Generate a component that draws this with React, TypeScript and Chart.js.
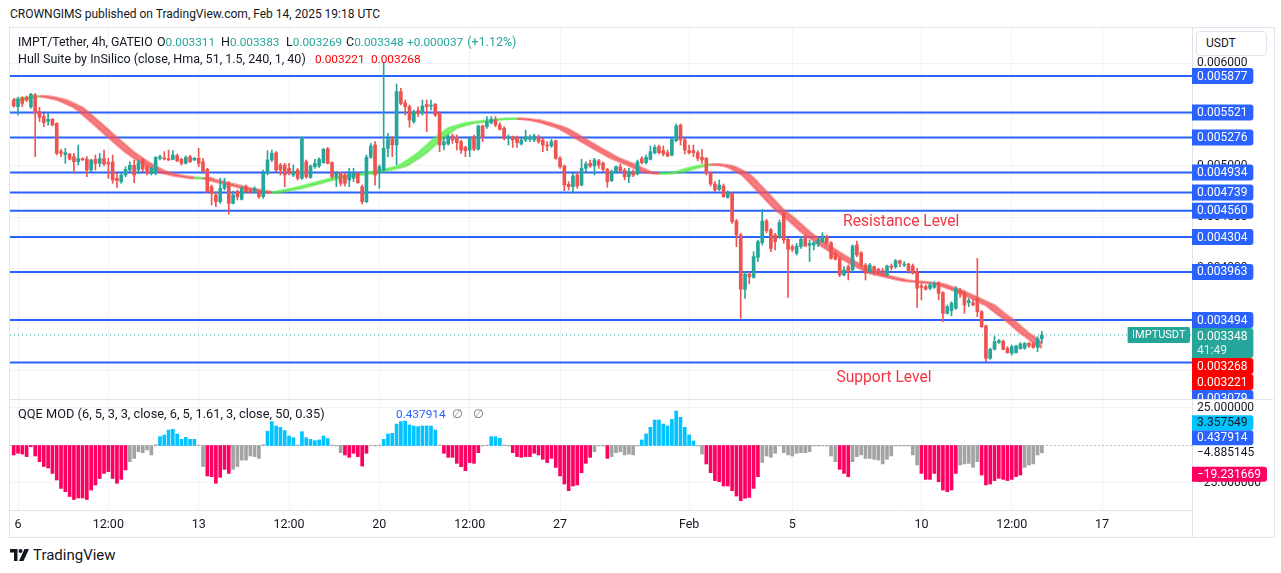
import React, { useEffect, useRef } from 'react';
import { Chart, registerables } from 'chart.js';

Chart.register(...registerables);

const FONT = 'Roboto, "Noto Sans", "DejaVu Sans", sans-serif';
Chart.defaults.font.family = FONT;

// ---- DATA (4h candles, index 0 = Jan 5 2025 20:00 UTC; prices in millionths of USDT) ----
const openU = [
  5642,5577,5665,5668,5577,5691,5528,5480,5434,5454,
  5415,5138,5109,5115,5089,5040,5070,5066,4959,5063,
  5024,5070,5031,5037,4878,4845,4910,4959,5005,4959,
  5057,4991,4926,4933,5073,5076,5070,5063,5099,5063,
  5024,5089,5057,5073,5040,4965,4796,4715,4650,4780,
  4829,4633,4747,4672,4796,4764,4747,4754,4698,4926,
  5057,5128,5008,5008,4975,4910,4959,4878,5040,4887,
  4991,4998,5031,5167,5031,4887,4933,4910,4861,4878,
  4926,4796,4650,5083,5203,4926,4959,5170,5261,5203,
  5724,5616,5577,5431,5538,5519,5600,5584,5600,5512,
  5203,5213,5291,5278,5236,5180,5154,5284,5161,5389,
  5382,5421,5447,5398,5366,5268,5284,5278,5213,5252,
  5258,5252,5284,5252,5203,5193,5245,5073,4998,4819,
  4796,4910,4812,4975,5024,4998,5047,5024,4965,4855,
  4943,4991,4959,4894,4943,4920,5070,5031,5063,5128,
  5187,5148,5128,5105,5245,5398,5252,5148,5148,5128,
  5083,5073,4933,4822,4770,4803,4692,4731,4461,4324,
  3794,3943,3911,4106,4249,4461,4373,4324,4308,4536,
  4282,4210,4145,4210,4308,4223,4227,4236,4259,4308,
  4249,4145,4096,3934,4015,3983,4227,4152,4031,3966,
  4015,3989,3976,3934,4021,4015,4073,4031,4041,4021,
  3966,3826,3820,3804,3813,3859,3761,3559,3585,3608,
  3787,3761,3663,3663,3706,3575,3436,3120,3208,3273,
  3289,3218,3169,3175,3214,3218,3266,3260,3227,3311,
];
const highU = [
  5659,5668,5675,5681,5708,5708,5571,5512,5512,5463,
  5421,5161,5170,5122,5122,5203,5079,5089,5063,5105,
  5122,5154,5073,5105,4926,4926,4991,5040,5057,5057,
  5073,5008,4991,5089,5105,5138,5154,5148,5115,5073,
  5096,5102,5083,5170,5073,4975,4812,4747,4878,4878,
  4845,4754,4764,4796,4812,4780,4796,4764,4959,5148,
  5154,5138,5024,5024,5024,5008,4975,5284,5057,5008,
  5063,5079,5170,5180,5040,4943,4939,4926,4975,4975,
  4933,4812,5105,5219,5236,5008,6010,5317,5284,5799,
  5756,5642,5594,5545,5577,5642,5642,5642,5610,5528,
  5284,5301,5310,5301,5252,5193,5284,5301,5398,5398,
  5480,5480,5480,5421,5382,5301,5291,5291,5268,5349,
  5301,5310,5301,5268,5236,5258,5252,5089,5008,4845,
  4926,4943,5063,5040,5057,5073,5063,5040,4975,4959,
  4998,5018,4975,4975,4959,5057,5089,5105,5193,5203,
  5203,5193,5154,5268,5408,5408,5268,5203,5203,5148,
  5161,5083,4943,4845,4861,4822,4757,4737,4477,4340,
  3966,3966,4161,4275,4575,4477,4389,4340,4471,4552,
  4292,4227,4243,4308,4324,4275,4259,4292,4347,4324,
  4259,4161,4113,4015,4031,4227,4266,4161,4047,4047,
  4021,3999,3999,4031,4041,4087,4080,4064,4047,4041,
  3999,3852,3836,3859,3869,3869,3771,3641,3673,3820,
  3803,3781,3706,3690,4096,3585,3445,3218,3338,3305,
  3299,3234,3250,3250,3273,3273,3273,3273,3331,3383,
];
const lowU = [
  5571,5496,5577,5626,5561,5089,5431,5382,5398,5389,
  5105,5089,5024,5057,4926,5008,5050,4894,4943,4959,
  4991,4998,4878,4829,4790,4829,4894,4943,4835,4926,
  4943,4910,4910,4910,5057,5057,5050,5057,5040,5008,
  5018,5031,5050,4991,4943,4737,4617,4601,4633,4764,
  4529,4627,4666,4666,4737,4731,4737,4682,4682,4910,
  5040,4943,4910,4796,4910,4894,4861,4868,4878,4878,
  4975,4985,5024,5018,4878,4796,4803,4803,4796,4845,
  4829,4627,4640,5073,4812,4780,4943,5089,5089,5008,
  5594,5496,5376,5415,5480,5496,5333,5545,5480,5138,
  5154,5203,5219,5154,5122,5089,5089,5148,5154,5236,
  5366,5408,5382,5349,5252,5203,5180,5180,5203,5236,
  5236,5236,5219,5138,5148,5180,5063,4975,4757,4764,
  4731,4780,4803,4943,4985,4910,4975,4943,4790,4845,
  4926,4943,4861,4835,4894,4910,5018,5018,5057,5115,
  5115,5096,5089,5096,5236,5203,5115,5115,5089,5050,
  5024,4910,4803,4747,4757,4692,4682,4438,4210,3510,
  3706,3846,3901,4064,4227,4347,4161,4178,4292,4243,
  3715,4161,4129,4194,4210,4064,4178,4210,4249,4236,
  4087,4080,3917,3924,3885,3966,4113,4015,3885,3950,
  3934,3934,3924,3924,3983,3999,4015,4015,3950,3943,
  3618,3690,3787,3787,3803,3690,3478,3553,3533,3598,
  3715,3559,3625,3631,3527,3422,3087,3110,3201,3266,
  3201,3169,3152,3169,3208,3208,3227,3218,3185,3269,
];
const closeU = [
  5584,5649,5610,5642,5698,5519,5473,5421,5454,5398,
  5122,5122,5128,5066,5040,5070,5060,4959,5057,5024,
  5070,5018,5018,4861,4855,4910,4965,5005,4910,5031,
  4969,4926,4975,5083,5089,5066,5057,5105,5047,5024,
  5083,5040,5073,5024,4949,4747,4731,4650,4780,4822,
  4633,4715,4698,4780,4747,4741,4780,4698,4926,5057,
  5122,4959,4959,4910,4926,4943,4878,5278,4894,4998,
  5024,5063,5161,5024,4894,4926,4829,4829,4926,4926,
  4835,4650,5083,5193,4910,4991,5170,5268,5203,5724,
  5610,5577,5447,5528,5512,5584,5577,5594,5496,5203,
  5236,5291,5252,5226,5154,5148,5268,5161,5389,5278,
  5431,5454,5398,5356,5268,5284,5252,5226,5252,5284,
  5278,5291,5236,5203,5193,5236,5073,4991,4812,4796,
  4900,4803,4975,5018,4998,5057,5008,4965,4845,4943,
  4991,4952,4894,4943,4910,5040,5031,5083,5138,5180,
  5128,5115,5096,5258,5389,5252,5154,5128,5128,5073,
  5057,4926,4822,4764,4812,4698,4737,4454,4324,3794,
  3943,3917,4113,4259,4461,4366,4194,4259,4445,4275,
  4184,4184,4217,4282,4217,4243,4249,4275,4314,4243,
  4096,4087,3934,3983,3966,4217,4129,4031,3950,4031,
  3976,3950,3934,4021,4008,4073,4047,4041,3966,3950,
  3804,3813,3794,3836,3852,3755,3559,3625,3657,3803,
  3755,3641,3683,3641,3575,3429,3120,3208,3283,3292,
  3208,3175,3234,3240,3260,3266,3240,3227,3311,3348,
];
// Hull Suite (HMA) line, millionths of USDT
const hullU = [
  5645,5653,5660,5668,5675,5682,5680,5672,5665,5655,
  5645,5629,5609,5589,5569,5537,5500,5464,5427,5390,
  5353,5315,5278,5241,5204,5168,5132,5103,5074,5045,
  5019,4996,4974,4952,4936,4925,4915,4905,4898,4893,
  4888,4879,4878,4881,4880,4862,4854,4844,4833,4823,
  4813,4803,4792,4782,4774,4768,4760,4752,4744,4735,
  4740,4748,4757,4765,4773,4781,4792,4803,4813,4825,
  4836,4848,4858,4869,4881,4887,4894,4899,4906,4912,
  4919,4925,4932,4939,4946,4954,4963,4973,4983,4994,
  5015,5042,5069,5097,5129,5166,5203,5240,5274,5306,
  5338,5369,5382,5394,5406,5418,5423,5428,5433,5438,
  5443,5448,5454,5458,5459,5460,5461,5460,5456,5451,
  5447,5438,5427,5416,5402,5390,5376,5358,5334,5310,
  5284,5260,5235,5211,5186,5162,5139,5115,5091,5071,
  5054,5036,5020,5001,4981,4962,4941,4935,4930,4924,
  4921,4926,4931,4936,4941,4955,4969,4980,4990,4998,
  5006,5014,5015,5010,5005,5000,4986,4964,4941,4918,
  4882,4837,4793,4748,4704,4659,4615,4570,4538,4505,
  4469,4433,4394,4356,4324,4296,4267,4237,4209,4182,
  4155,4129,4105,4079,4055,4030,4010,3989,3968,3950,
  3940,3931,3920,3910,3900,3891,3881,3874,3871,3869,
  3866,3861,3856,3852,3847,3835,3820,3805,3790,3771,
  3754,3735,3718,3697,3677,3657,3637,3604,3571,3539,
  3508,3475,3439,3402,3365,3338,3305,3268,3245,3221,
];
// QQE MOD histogram
const qqeHist = [
  -6.3,-5.2,-5.7,-7.4,-0.8,-7,-10.8,-14,-15,-18.6,
  -23,-28.6,-30.8,-34,-36,-35,-35,-36,-29.7,-26.3,
  -22,-18.6,-17.4,-22,-25.2,-22.6,-16.3,-10.8,-8.6,-4.1,
  -4.8,-3,-6.3,0.5,5.9,7,10.3,10.8,7.7,4.1,
  5.4,4.1,4.1,0.3,-14,-20.3,-20.8,-25.2,-21.2,-15.9,
  -18.6,-15.9,-14,-9.7,-9.7,-7,-7.4,-8.6,0.5,9.5,
  15.9,13,12.1,9.9,6.3,5.2,0.4,9.2,5.2,4.1,
  3.2,3.7,6.3,4.6,0.3,-0.3,-4.8,-6.3,-7.9,-5.2,
  -7.4,-13.7,-5.2,0.2,-0.3,0.3,4.1,7.7,8.1,14.3,
  15.9,16.3,13.7,13,12.6,13,13,13,10.3,0.3,
  -5.2,-7.9,-7.9,-11.9,-14.1,-16.8,-11.4,-11.9,-4.8,-0.3,
  0.3,5.9,5.9,4.8,0.3,-0.3,-4.8,-7.4,-7.9,-7.4,
  -7.4,-5.2,-6.3,-9.2,-11.4,-8.6,-14.6,-20.3,-25.7,-30.1,
  -27,-26.3,-18.1,-11.9,-7.9,-4.1,-0.3,-0.3,-8.6,-7.4,
  -4.8,-4.1,-6.3,-5.7,-6.3,-0.3,3.7,7.7,12.1,17,
  17,14.3,13,17.4,23,18.8,12.1,7,3,-0.3,
  -5.7,-12.3,-18.1,-23.4,-24.1,-27,-27,-30.1,-33.7,-36.8,
  -35.2,-34.6,-28.6,-20.8,-11.4,-7,-7.9,-5.2,-0.3,-4.8,
  -6.3,-7,-5.2,-4.8,-4.8,-4.1,-0.3,-0.3,-0.3,-0.3,
  -7,-10.8,-15.9,-18.6,-20.8,-10.8,-7.4,-6.3,-8.6,-8.6,
  -9.2,-9.7,-12.3,-9.2,-7,-0.3,-0.3,-0.3,-0.3,-6.3,
  -13,-18.6,-22.6,-22.6,-18.6,-24.1,-29.7,-30.8,-29.7,-18.6,
  -13,-12.3,-11.9,-14.6,-10.8,-19.7,-26.3,-25.7,-23.4,-21.9,
  -22.6,-23.4,-22.6,-20.8,-19.7,-14.6,-13,-12.3,-6.3,-4.9,
];
// histogram state runs: u = above upper band (blue), d = below (pink), n = neutral (gray)
const qqeStateRuns: [string, number][] = [
  ['d',27],['n',7],['u',9],['n',2],['d',6],['n',8],['u',7],['n',1],['u',7],['n',3],
  ['d',6],['n',3],['u',13],['n',1],['d',9],['n',2],['u',3],['n',2],['d',19],['n',3],
  ['d',1],['n',7],['u',13],['n',2],['d',13],['n',18],['d',3],['n',16],['d',9],['n',5],
  ['d',10],['n',5],
];
const priceLevels = [0.005877, 0.005521, 0.005276, 0.004934, 0.004739, 0.004560, 0.004304, 0.003963, 0.003494, 0.003079];
const priceTicks = [0.003, 0.0035, 0.004, 0.0045, 0.005, 0.0055, 0.006];
const qqeTicks = [-25, 25];
const qqeAxisValues = [3.357549, 0.437914, -4.885145, -19.231669];
const timeTickIdx = [1, 22, 43, 64, 85, 106, 127, 157, 181, 211, 232, 253];
const timeTickLabels = ['6', '12:00', '13', '12:00', '20', '12:00', '27', 'Feb', '5', '10', '12:00', '17'];
const annotations = [
  { text: 'Resistance Level', x: 206.3, y: 0.004455 },
  { text: 'Support Level', x: 202.3, y: 0.002925 },
];
const countdown = '41:49';

// ---- layout / style ----
const X_MIN = -0.86, X_MAX = 273.9;
const P_MIN = 0.0027226, P_MAX = 0.0063458;
const Q_MIN = -43, Q_MAX = 30.33;
const AXIS_W = 81;
const TEXT = '#131722';
const GRID = '#f0f3fa';
const BORDER = '#e0e3eb';
const TEAL = '#26a69a';
const RED = '#ef5350';
const LINE_BLUE = '#2962ff';
const HULL_GREEN = 'rgba(80,238,70,0.75)';
const HULL_RED = 'rgba(245,82,88,0.76)';
const HULL_GREEN_EDGE = 'rgba(80,238,70,0.55)';
const HULL_RED_EDGE = 'rgba(245,82,88,0.55)';
const Q_UP = '#00c3ff';
const Q_DN = '#ff0062';
const Q_NEU = '#a3a3a3';
const NUM_FS = '11.8px';

const P = (u: number) => u / 1e6;
const fmtNum = (v: number, d: number) => (v < 0 ? '\u2212' : '') + Math.abs(v).toFixed(d);

function roundRect(ctx: CanvasRenderingContext2D, x: number, y: number, w: number, h: number, r: number) {
  ctx.beginPath();
  ctx.moveTo(x, y);
  ctx.lineTo(x + w - r, y);
  ctx.quadraticCurveTo(x + w, y, x + w, y + r);
  ctx.lineTo(x + w, y + h - r);
  ctx.quadraticCurveTo(x + w, y + h, x + w - r, y + h);
  ctx.lineTo(x, y + h);
  ctx.closePath();
}

export default function App() {
  const refA = useRef<HTMLCanvasElement>(null);
  const refB = useRef<HTMLCanvasElement>(null);
  const n = openU.length;
  const last = n - 1;
  const lastClose = P(closeU[last]);
  const change = closeU[last] - closeU[last - 1];
  const changePct = (change / closeU[last - 1]) * 100;
  const hullLast = P(hullU[last]);
  const hullPrev = P(hullU[last - 2]);

  useEffect(() => {
    const idx = openU.map((_, i) => i);
    const candleColor = idx.map(i => (closeU[i] >= openU[i] ? TEAL : RED));
    const states: string[] = [];
    qqeStateRuns.forEach(([s, c]) => { for (let k = 0; k < c; k++) states.push(s); });
    const qColor = idx.map(i => (states[i] === 'u' ? Q_UP : states[i] === 'd' ? Q_DN : Q_NEU));
    const rising = (i: number) => hullU[i] >= hullU[Math.max(0, i - 2)];
    const hullEdge = (i: number) => (rising(i) ? HULL_GREEN_EDGE : HULL_RED_EDGE);

    const fixY = (scale: any) => { scale.width = AXIS_W; scale.paddingTop = 0; scale.paddingBottom = 0; };
    const fixXh = (h: number) => (scale: any) => { scale.height = h; scale.paddingLeft = 0; scale.paddingRight = 0; };

    const labelsA = {
      id: 'labelsA',
      afterDatasetsDraw(chart: any) {
        const { ctx, scales } = chart;
        ctx.save();
        ctx.font = `15.6px ${FONT}`;
        ctx.fillStyle = '#f23645';
        ctx.textAlign = 'center';
        ctx.textBaseline = 'middle';
        annotations.forEach(a => ctx.fillText(a.text, scales.x.getPixelForValue(a.x), scales.y.getPixelForValue(a.y)));
        ctx.restore();
      },
      afterDraw(chart: any) {
        const { ctx, chartArea } = chart;
        const y = chart.scales.y;
        const items: any[] = [
          ...priceLevels.map(v => ({ v, lines: [v.toFixed(6)], bg: LINE_BLUE, fg: '#ffffff' })),
          { v: lastClose, lines: [lastClose.toFixed(6), countdown], bg: TEAL, fg: '#ffffff' },
          { v: hullPrev, lines: [hullPrev.toFixed(6)], bg: '#ff0000', fg: '#ffffff' },
          { v: hullLast, lines: [hullLast.toFixed(6)], bg: '#ff0000', fg: '#ffffff' },
        ].sort((a, b) => b.v - a.v);
        ctx.save();
        // symbol tag on the price line
        const py0 = y.getPixelForValue(lastClose);
        ctx.font = `11px ${FONT}`;
        const tw = ctx.measureText('IMPTUSDT').width + 9;
        ctx.fillStyle = TEAL;
        roundRect(ctx, chartArea.right - tw - 2, py0 - 8, tw, 16, 2);
        ctx.fill();
        ctx.fillStyle = '#ffffff';
        ctx.textBaseline = 'middle';
        ctx.textAlign = 'center';
        ctx.fillText('IMPTUSDT', chartArea.right - 2 - tw / 2, py0 + 0.5);
        // axis labels
        ctx.beginPath();
        ctx.rect(chartArea.right, 0, chart.width - chartArea.right, chartArea.bottom);
        ctx.clip();
        ctx.textAlign = 'left';
        ctx.font = `12px ${FONT}`;
        let prevBottom = -1e9;
        items.forEach(it => {
          const h = it.lines.length === 1 ? 16 : 30;
          let top = y.getPixelForValue(it.v) - 8;
          if (top < prevBottom) top = prevBottom;
          prevBottom = top + h;
          const w = Math.max(...it.lines.map((t: string) => ctx.measureText(t).width)) + 11;
          ctx.fillStyle = it.bg;
          roundRect(ctx, chartArea.right, top, w, h, 3);
          ctx.fill();
          ctx.fillStyle = it.fg;
          it.lines.forEach((t: string, k: number) => {
            ctx.globalAlpha = k === 0 ? 1 : 0.85;
            ctx.fillText(t, chartArea.right + 5, top + 8.5 + k * 14);
          });
          ctx.globalAlpha = 1;
        });
        ctx.restore();
      },
    };

    const labelsB = {
      id: 'labelsB',
      afterDraw(chart: any) {
        const { ctx, chartArea } = chart;
        const y = chart.scales.y;
        const colors = [
          { bg: Q_UP, fg: TEXT },
          { bg: LINE_BLUE, fg: '#ffffff' },
          { bg: null, fg: TEXT },
          { bg: Q_DN, fg: '#ffffff' },
        ];
        const items = qqeAxisValues.map((v, k) => ({ v, ...colors[k] })).sort((a, b) => a.v - b.v);
        ctx.save();
        ctx.beginPath();
        ctx.rect(chartArea.right, chartArea.top, chart.width - chartArea.right, chartArea.bottom - chartArea.top);
        ctx.clip();
        ctx.font = `12px ${FONT}`;
        ctx.textBaseline = 'middle';
        ctx.textAlign = 'left';
        let prevTop = 1e9;
        items.forEach(it => {
          const h = 15;
          let bottom = y.getPixelForValue(it.v) + 7.5;
          if (bottom > prevTop) bottom = prevTop;
          prevTop = bottom - h;
          const txt = fmtNum(it.v, 6);
          const w = ctx.measureText(txt).width + 11;
          if (it.bg) {
            ctx.fillStyle = it.bg;
            roundRect(ctx, chartArea.right, bottom - h, w, h, 3);
            ctx.fill();
          }
          ctx.fillStyle = it.fg;
          ctx.fillText(txt, chartArea.right + 5, bottom - h / 2 + 0.5);
        });
        ctx.restore();
      },
    };

    const xBase = {
      type: 'linear',
      min: X_MIN,
      max: X_MAX,
      offset: false,
      afterBuildTicks: (s: any) => { s.ticks = timeTickIdx.map(v => ({ value: v })); },
      grid: { color: GRID, drawTicks: false, offset: false },
    };

    const a = new Chart(refA.current as HTMLCanvasElement, {
      type: 'bar',
      data: {
        datasets: [
          ...priceLevels.map(l => ({
            type: 'line',
            data: [{ x: X_MIN, y: l }, { x: X_MAX, y: l }],
            borderColor: LINE_BLUE,
            borderWidth: 2,
            pointRadius: 0,
            order: 20,
          })),
          {
            type: 'line',
            data: [{ x: X_MIN, y: lastClose }, { x: X_MAX, y: lastClose }],
            borderColor: TEAL,
            borderWidth: 1,
            borderDash: [1, 3],
            pointRadius: 0,
            order: 19,
          },
          {
            type: 'line',
            data: idx.map(i => ({ x: i, y: P(hullU[i]) })),
            borderWidth: 2.4,
            pointRadius: 0,
            fill: { target: '+1', above: HULL_GREEN, below: HULL_RED },
            segment: { borderColor: (c: any) => hullEdge(c.p1DataIndex) },
            order: 10,
          },
          {
            type: 'line',
            data: idx.map(i => ({ x: i, y: P(hullU[Math.max(0, i - 2)]) })),
            borderWidth: 2.4,
            pointRadius: 0,
            fill: false,
            segment: { borderColor: (c: any) => hullEdge(c.p1DataIndex) },
            order: 11,
          },
          {
            type: 'bar',
            data: idx.map(i => ({ x: i, y: [P(Math.min(lowU[i], openU[i], closeU[i])), P(Math.max(highU[i], openU[i], closeU[i]))] })),
            backgroundColor: candleColor,
            barThickness: 1,
            grouped: false,
            order: 2,
          },
          {
            type: 'bar',
            data: idx.map(i => ({ x: i, y: [P(Math.min(openU[i], closeU[i])), P(Math.max(openU[i], closeU[i]))] })),
            backgroundColor: candleColor,
            barThickness: 3,
            minBarLength: 1,
            grouped: false,
            order: 1,
          },
        ],
      } as any,
      options: {
        responsive: false,
        animation: false,
        events: [],
        layout: { padding: 0 },
        plugins: { legend: { display: false }, tooltip: { enabled: false }, filler: { propagate: false } },
        scales: {
          x: { ...xBase, ticks: { display: false }, border: { display: false }, afterFit: fixXh(0) },
          y: {
            type: 'linear',
            position: 'right',
            min: P_MIN,
            max: P_MAX,
            afterBuildTicks: (s: any) => { s.ticks = priceTicks.map(v => ({ value: v })); },
            afterFit: fixY,
            grid: { color: GRID, drawTicks: false },
            border: { display: true, color: BORDER },
            ticks: { color: TEXT, font: { size: 12 }, padding: 5, callback: (v: any) => Number(v).toFixed(6) },
          },
        },
      } as any,
      plugins: [labelsA],
    });

    const b = new Chart(refB.current as HTMLCanvasElement, {
      type: 'bar',
      data: {
        datasets: [
          {
            type: 'line',
            data: [{ x: X_MIN, y: 0 }, { x: X_MAX, y: 0 }],
            borderColor: 'rgba(120,123,134,0.45)',
            borderWidth: 1,
            borderDash: [2, 2],
            pointRadius: 0,
            order: 5,
          },
          {
            type: 'bar',
            data: idx.map(i => ({ x: i, y: qqeHist[i] })),
            backgroundColor: qColor,
            barThickness: 3,
            grouped: false,
            order: 1,
          },
        ],
      } as any,
      options: {
        responsive: false,
        animation: false,
        events: [],
        layout: { padding: 0 },
        plugins: { legend: { display: false }, tooltip: { enabled: false } },
        scales: {
          x: {
            ...xBase,
            border: { display: true, color: BORDER },
            afterFit: fixXh(27),
            ticks: {
              color: TEXT,
              font: { size: 12.5 },
              padding: 7,
              autoSkip: false,
              maxRotation: 0,
              callback: (v: any) => timeTickLabels[timeTickIdx.indexOf(Number(v))] ?? '',
            },
          },
          y: {
            type: 'linear',
            position: 'right',
            min: Q_MIN,
            max: Q_MAX,
            afterBuildTicks: (s: any) => { s.ticks = qqeTicks.map(v => ({ value: v })); },
            afterFit: fixY,
            grid: { color: GRID, drawTicks: false },
            border: { display: true, color: BORDER },
            ticks: { color: TEXT, font: { size: 12 }, padding: 5, callback: (v: any) => fmtNum(Number(v), 6) },
          },
        },
      } as any,
      plugins: [labelsB],
    });

    return () => { a.destroy(); b.destroy(); };
  }, []);

  const abs = (l: number, t: number, extra: any = {}) => ({ position: 'absolute', left: l, top: t, ...extra }) as React.CSSProperties;
  const legendFont = { font: `12.5px ${FONT}`, color: TEXT, whiteSpace: 'nowrap', lineHeight: '16px' };
  const num = (t: string, c: string) => <span style={{ color: c, fontSize: NUM_FS }}>{t}</span>;
  const sgn = change >= 0 ? '+' : '\u2212';
  const ohlc: [string, number, number][] = [
    ['O', openU[last], 157],
    ['H', highU[last], 221],
    ['L', lowU[last], 286],
    ['C', closeU[last], 346],
  ];

  return (
    <div style={{ position: 'absolute', left: 0, top: 0, width: 1281, height: 573, background: '#ffffff', overflow: 'hidden', fontFamily: FONT }}>
      <div style={abs(10, 6, { font: `12px ${FONT}`, color: TEXT, lineHeight: '16px', whiteSpace: 'nowrap' })}>
        CROWNGIMS published on TradingView.com, Feb 14, 2025 19:18 UTC
      </div>
      <div style={abs(9, 27, { width: 1266, height: 511, border: `1px solid ${BORDER}`, boxSizing: 'border-box' })} />
      <canvas ref={refA} width={1263} height={371} style={abs(10, 28, { width: 1263, height: 371 })} />
      <div style={abs(10, 399, { width: 1263, height: 1, background: BORDER })} />
      <canvas ref={refB} width={1263} height={137} style={abs(10, 400, { width: 1263, height: 137 })} />
      <div style={abs(1192, 510, { width: 1, height: 27, background: BORDER })} />

      <div style={abs(18, 34, { ...legendFont, fontSize: '12.3px' })}>IMPT/Tether, 4h, GATEIO</div>
      {ohlc.map(([k, v, x]) => (
        <div key={k} style={abs(x, 34, legendFont)}>{k}{num(P(v).toFixed(6), TEAL)}</div>
      ))}
      <div style={abs(407, 34, legendFont)}>
        {num(`${sgn}${P(Math.abs(change)).toFixed(6)}`, TEAL)}
        <span style={{ color: TEAL, marginLeft: 4 }}>({sgn}{Math.abs(changePct).toFixed(2)}%)</span>
      </div>
      <div style={abs(18, 51, legendFont)}>Hull Suite by InSilico (close, Hma, 51, 1.5, 240, 1, 40)</div>
      <div style={abs(315, 51, legendFont)}>{num(hullLast.toFixed(6), '#ff0000')}</div>
      <div style={abs(371, 51, legendFont)}>{num(hullPrev.toFixed(6), '#ff0000')}</div>
      <div style={abs(18, 406, { ...legendFont, fontSize: '12.8px' })}>QQE MOD (6, 5, 3, 3, close, 6, 5, 1.61, 3, close, 50, 0.35)</div>
      <div style={abs(396, 406, legendFont)}>{num(qqeAxisValues[1].toFixed(6), LINE_BLUE)}</div>
      <div style={abs(452, 406, { ...legendFont, color: '#787b86' })}>∅</div>
      <div style={abs(473, 406, { ...legendFont, color: '#787b86' })}>∅</div>

      <div style={abs(1196, 31, { width: 71, height: 25, border: `1px solid ${BORDER}`, borderRadius: 4, boxSizing: 'border-box', background: '#fff', font: `12px ${FONT}`, color: TEXT, lineHeight: '23px', paddingLeft: 9 })}>
        USDT
      </div>

      <svg style={abs(10, 549)} width="19" height="12" viewBox="0 0 38 24">
        <path d="M0 0 H15 V24 H8 V7 H0 Z" fill={TEXT} />
        <circle cx="21" cy="4" r="4" fill={TEXT} />
        <path d="M29 0 H38 L27 24 H18 Z" fill={TEXT} />
      </svg>
      <div style={abs(33, 546, { font: `15px ${FONT}`, color: TEXT, lineHeight: '18px' })}>TradingView</div>
    </div>
  );
}
